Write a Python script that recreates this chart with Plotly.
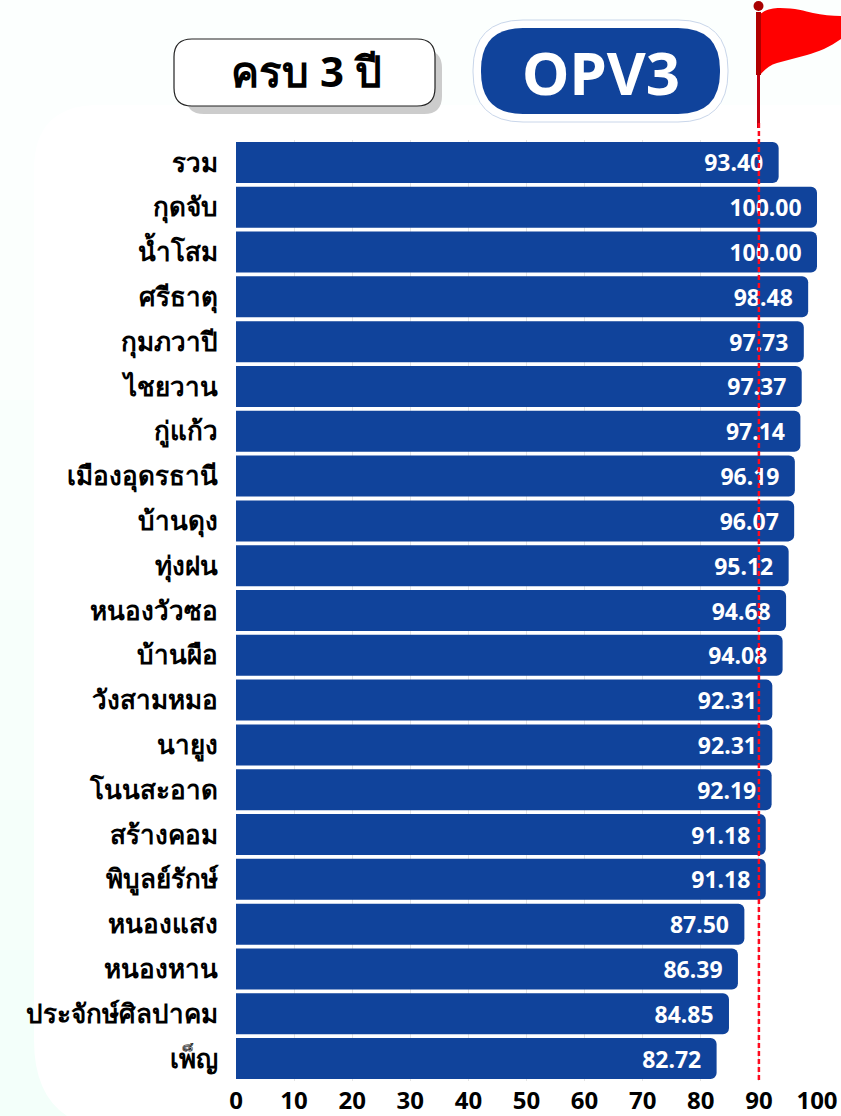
import plotly.graph_objects as go

categories = ["รวม", "กุดจับ", "น้ำโสม", "ศรีธาตุ", "กุมภวาปี", "ไชยวาน", "กู่แก้ว", "เมืองอุดรธานี", "บ้านดุง", "ทุ่งฝน",
              "หนองวัวซอ", "บ้านผือ", "วังสามหมอ", "นายูง", "โนนสะอาด", "สร้างคอม", "พิบูลย์รักษ์", "หนองแสง", "หนองหาน",
              "ประจักษ์ศิลปาคม", "เพ็ญ"]
values = [93.40, 100.00, 100.00, 98.48, 97.73, 97.37, 97.14, 96.19, 96.07, 95.12,
          94.68, 94.08, 92.31, 92.31, 92.19, 91.18, 91.18, 87.50, 86.39, 84.85, 82.72]
x_ticks = [0, 10, 20, 30, 40, 50, 60, 70, 80, 90, 100]
target = 90
title_left = "ครบ 3 ปี"
title_right = "OPV3"

W, H = 841, 1116
L, R, T, B = 236, 24, 140, 35
FONT = "Noto Sans, DejaVu Sans, sans-serif"
BLUE = "#10439b"


def px(x):
    return (x - L) / (W - L - R)


def py(y):
    return 1 - (y - T) / (H - T - B)


def rrect(x0, y0, x1, y1, r):
    rx = r / (W - L - R)
    ry = r / (H - T - B)
    a, b, c, d = px(x0), px(x1), py(y0), py(y1)
    return (f"M{a+rx},{c} L{b-rx},{c} Q{b},{c} {b},{c-ry} L{b},{d+ry} Q{b},{d} {b-rx},{d} "
            f"L{a+rx},{d} Q{a},{d} {a},{d+ry} L{a},{c-ry} Q{a},{c} {a+rx},{c} Z")


def pshape(path, fill, line=None, lw=0, layer="below"):
    return dict(type="path", xref="paper", yref="paper", path=path, fillcolor=fill,
                line=dict(color=line or fill, width=lw), layer=layer)


def P(x, y):
    return f"{px(x)},{py(y)}"


fig = go.Figure(go.Bar(
    y=categories, x=values, orientation="h",
    marker=dict(color=BLUE, cornerradius=6, line=dict(width=0)),
    text=[f"{v:.2f}\u00a0\u00a0" for v in values], textposition="inside", insidetextanchor="end",
    textangle=0,
    textfont=dict(color="white", size=23, family=FONT, weight="bold"),
    width=0.915, hoverinfo="skip",
))

flag = (f"M{P(760,14)} C{P(767,9)} {P(773,8)} {P(780,8)} C{P(795,8)} {P(805,11)} {P(813,13)} "
        f"C{P(822,15)} {P(832,16)} {P(841,16)} "
        f"L{P(841,39)} C{P(830,47)} {P(818,52)} {P(807,55)} C{P(797,58)} {P(787,60)} {P(777,63)} "
        f"C{P(770,65)} {P(765,69)} {P(760,75)} Z")

shapes = [
    pshape(rrect(0, 200, 80, 1116, 0), "#fbfffd"),
    pshape(rrect(0, 400, 80, 1116, 0), "#f9fffc"),
    pshape(rrect(0, 600, 80, 1116, 0), "#f7fffb"),
    pshape(rrect(0, 800, 80, 1116, 0), "#f5fffa"),
    pshape(rrect(0, 950, 80, 1116, 0), "#f3fffa"),
    pshape(rrect(34, 105, 900, 600, 65), "#ffffff"),
    pshape(rrect(34, 400, 900, 1130, 90), "#ffffff"),
    pshape(rrect(186, 50, 442, 114, 18), "#cccccc"),
    pshape(rrect(174, 39, 435, 106, 18), "#ffffff", "#222222", 1.2),
    pshape(rrect(473, 20, 728, 122, 50), "#ffffff", "#c9d6ea", 1),
    pshape(rrect(481, 28, 720, 114, 42), BLUE),
    pshape(flag, "#ff0000", layer="above"),
    pshape(rrect(757, 75, 760, 128, 0), "#c00010", layer="above"),
    pshape(rrect(756, 12, 761, 75, 0), "#b00000", layer="above"),
    dict(type="circle", xref="paper", yref="paper", x0=px(753.5), x1=px(763.5), y0=py(1), y1=py(11),
         fillcolor="#a80000", line=dict(width=0), layer="above"),
    dict(type="line", xref="x", yref="paper", x0=target, x1=target, y0=py(123), y1=py(1081),
         line=dict(color="#ff0a1e", width=2.5, dash="5px,3px"), layer="above"),
]

fig.update_layout(
    width=W, height=H, margin=dict(l=L, r=R, t=T, b=B, pad=0),
    paper_bgcolor="#fcfffe", plot_bgcolor="rgba(0,0,0,0)",
    showlegend=False, shapes=shapes, bargap=0.1,
    font=dict(family=FONT, color="#000000"),
    xaxis=dict(range=[0, 100], tickvals=x_ticks, ticks="", showline=False, zeroline=False,
               automargin=False, showgrid=True, gridcolor="#e4e4e4", gridwidth=1,
               ticklabelstandoff=3,
               tickfont=dict(size=24, family=FONT, weight="bold", color="#000")),
    yaxis=dict(autorange="reversed", ticks="", showline=False, showgrid=False, zeroline=False,
               automargin=False, ticklabelstandoff=17,
               tickfont=dict(size=26, family=FONT, weight="bold", color="#000")),
    annotations=[
        dict(xref="paper", yref="paper", x=px(306), y=py(71), text=title_left, showarrow=False,
             xanchor="center", yanchor="middle",
             font=dict(size=42, family=FONT, weight="bold", color="#000")),
        dict(xref="paper", yref="paper", x=px(601), y=py(72), text=title_right, showarrow=False,
             xanchor="center", yanchor="middle",
             font=dict(size=60, family=FONT, weight="bold", color="#fff")),
    ],
)
fig.write_html("out.html", config=dict(displayModeBar=False),
               post_script="document.body.style.margin='0';")
